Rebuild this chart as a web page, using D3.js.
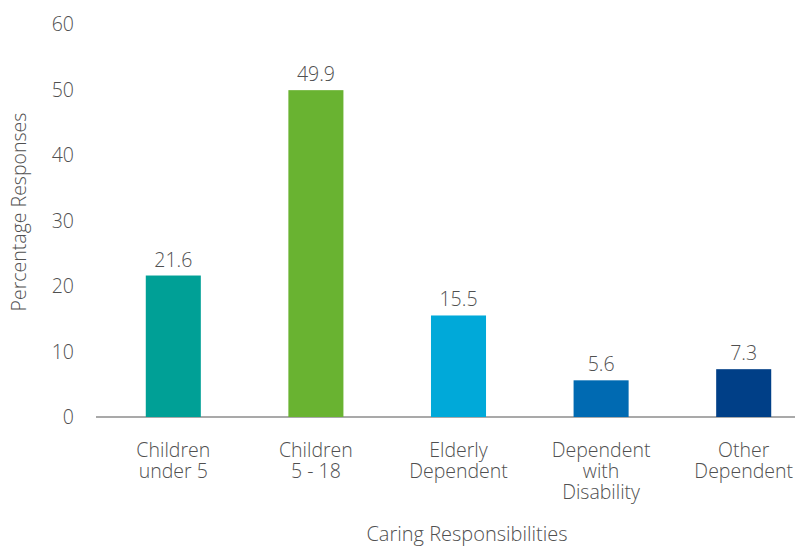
<!DOCTYPE html>
<html>
<head>
<meta charset="utf-8">
<script src="https://cdn.jsdelivr.net/npm/d3@7"></script>
<style>
  body { margin: 0; background: #fff; }
  svg text { font-family: "Open Sans", "Noto Sans", sans-serif; font-weight: 300; fill: #505050; }
</style>
</head>
<body>
<div id="chart"></div>
<script>
// Chart data
const categories = [
  ["Children", "under 5"],
  ["Children", "5 - 18"],
  ["Elderly", "Dependent"],
  ["Dependent", "with", "Disability"],
  ["Other", "Dependent"]
];
const values = [21.6, 49.9, 15.5, 5.6, 7.3];
const barColors = ["#00a096", "#69b331", "#00a9d9", "#006ab2", "#003f87"];
const yTicks = [0, 10, 20, 30, 40, 50, 60];

const width = 795, height = 546;

const svg = d3.select("#chart")
    .append("svg")
    .attr("width", width)
    .attr("height", height);

// Scales
const x = d3.scaleBand()
    .domain(d3.range(values.length))
    .range([102, 815])
    .paddingInner(0.614)
    .paddingOuter(0.307);

const y = d3.scaleLinear()
    .domain([0, 60])
    .range([417, 24]);

// Y axis (labels only)
const yAxis = svg.append("g")
    .attr("transform", "translate(74,0)")
    .call(d3.axisLeft(y).tickValues(yTicks).tickSize(0).tickPadding(0));
yAxis.select(".domain").remove();
yAxis.selectAll("text")
    .style("font-size", "19.5px")
    .attr("dy", "0.35em");

// Baseline
svg.append("line")
    .attr("x1", 96)
    .attr("x2", width)
    .attr("y1", y(0))
    .attr("y2", y(0))
    .attr("stroke", "#8c8c8c")
    .attr("stroke-width", 1.5);

// Bars
svg.selectAll("rect.bar")
    .data(values)
    .enter().append("rect")
    .attr("class", "bar")
    .attr("x", (d, i) => x(i))
    .attr("y", d => y(d))
    .attr("width", x.bandwidth())
    .attr("height", d => y(0) - y(d))
    .attr("fill", (d, i) => barColors[i]);

// Value labels
svg.selectAll("text.value")
    .data(values)
    .enter().append("text")
    .attr("class", "value")
    .attr("x", (d, i) => x(i) + x.bandwidth() / 2)
    .attr("y", d => y(d) - 9)
    .attr("text-anchor", "middle")
    .style("font-size", "19.5px")
    .text(d => d.toFixed(1));

// Category labels (one text per line, stacked)
categories.forEach((lines, i) => {
    lines.forEach((line, j) => {
        svg.append("text")
            .attr("class", "cat")
            .attr("x", x(i) + x.bandwidth() / 2)
            .attr("y", 457 + j * 21)
            .attr("text-anchor", "middle")
            .style("font-size", "19.5px")
            .text(line);
    });
});

// Axis titles
svg.append("text")
    .attr("x", 467)
    .attr("y", 541)
    .attr("text-anchor", "middle")
    .style("font-size", "20px")
    .text("Caring Responsibilities");

svg.append("text")
    .attr("transform", "translate(26,212) rotate(-90)")
    .attr("text-anchor", "middle")
    .style("font-size", "19.5px")
    .text("Percentage Responses");
</script>
</body>
</html>
